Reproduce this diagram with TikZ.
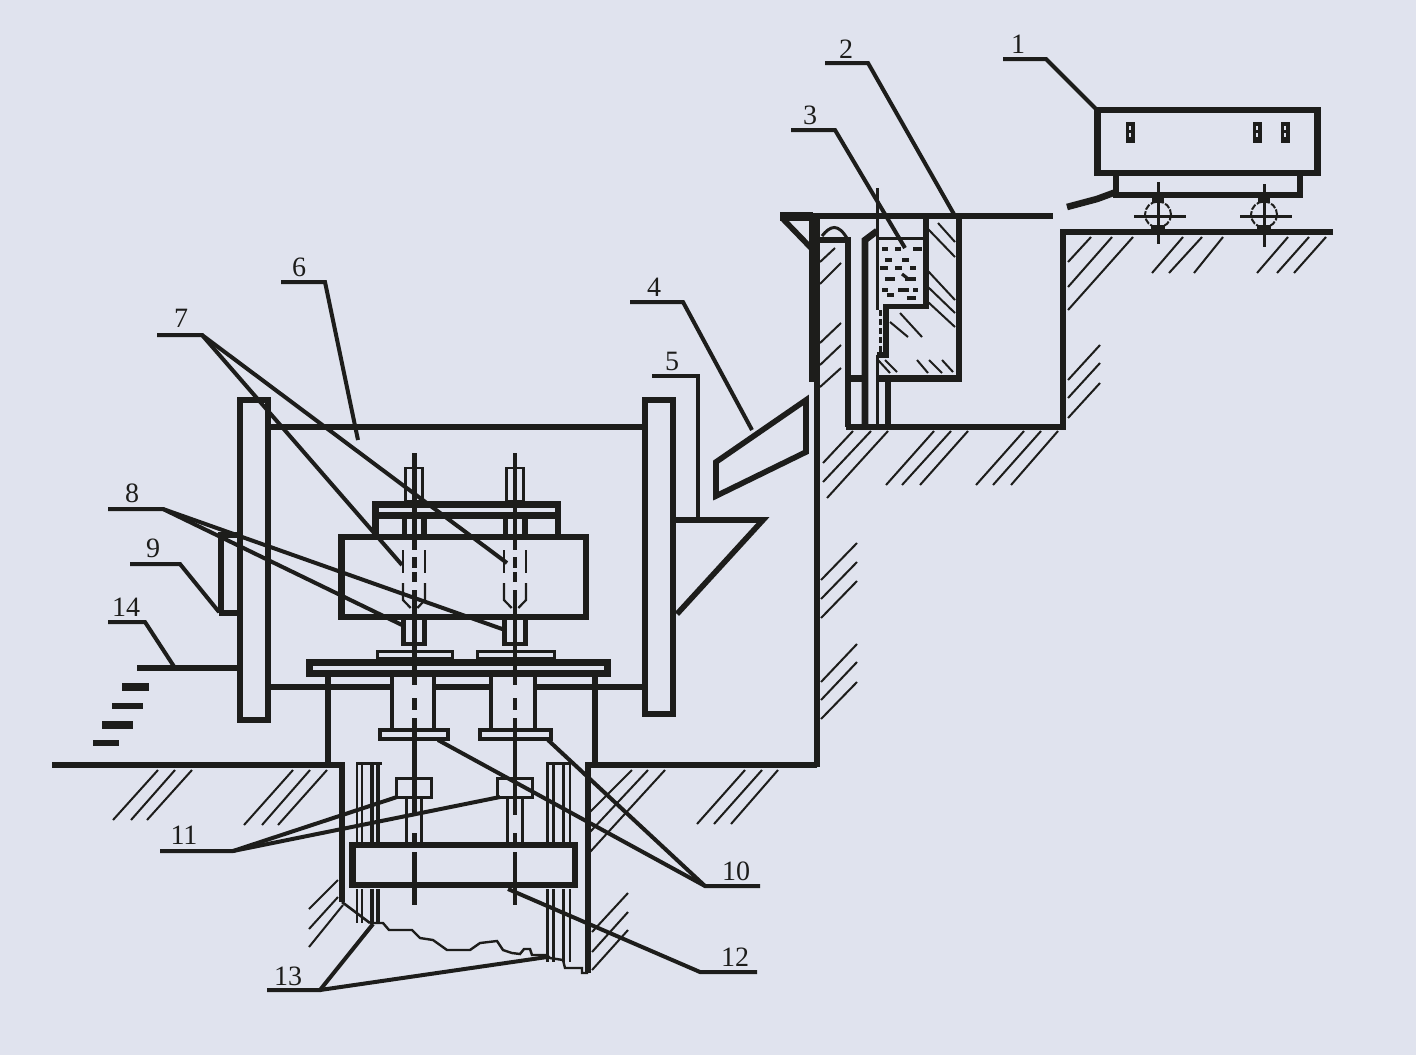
\documentclass[tikz,border=0pt]{standalone}
\usepackage{fontspec}
\setmainfont{Liberation Serif}
\usepackage{xcolor}
\definecolor{paper}{RGB}{224,227,238}
\definecolor{ink}{RGB}{29,29,27}
\tikzstyle{wall} = [draw=ink, line width=3.3pt]
\tikzstyle{frame} = [draw=ink, line width=2.8pt]
\tikzstyle{thinframe} = [draw=ink, line width=1.5pt]
\tikzstyle{fine} = [draw=ink, line width=1pt]
\tikzstyle{hatch} = [draw=ink, line width=1pt]
\tikzstyle{leader} = [draw=ink, line width=2pt]
\tikzstyle{number} = [inner sep=0pt, text=ink, font=\fontsize{14}{14}\selectfont]

\begin{document}
\begin{tikzpicture}[x=0.5pt, y=-0.5pt]
    \fill [paper] (0,0) rectangle (1416,1055);

    % Cart
    \draw [wall] (1097.5,110) rectangle (1317.5,173);
    \draw [frame] (1116,175) -- (1116,195) -- (1300,195) -- (1300,175);
    \draw [wall] (1067,207) -- (1097,199) -- (1116,192);
    \foreach \wx in {1130,1257,1285} {
        \fill [ink] (\wx-4.5,122) rectangle (\wx+4.5,143);
        \draw [paper, line width=0.6pt, dash pattern=on 2pt off 1.5pt] (\wx,126) -- (\wx,140);
    }
    \foreach \wx/\wa/\wb in {1158/182/244,1264/184/247} {
        \draw [fine, dash pattern=on 3pt off 0.8pt] (\wx,214.5) circle [radius=13];
        \draw [fine, line width=1.5pt] (\wx-24,216) -- (\wx+28,216);
        \draw [fine, line width=1.5pt] (\wx,\wa) -- (\wx,\wb);
        \fill [ink] (\wx-6,198) rectangle (\wx+6,203);
        \fill [ink] (\wx-7,225) rectangle (\wx+7,232);
    }

    % Ground, upper level
    \draw [frame] (1333,232) -- (1063,232) -- (1063,427) -- (846,427);
    \draw [wall] (780,216) -- (1053,216);
    \fill [ink] (780,212) rectangle (813,221);
    \draw [frame] (783,219) -- (812,249);

    % Tank walls
    \draw [wall] (812,216) -- (812,382);
    \draw [frame] (817,216) -- (817,767);
    \draw [frame] (820,240) -- (848,240) -- (848,427);
    \draw [thinframe] (822,236) .. controls (830,226) and (838,222) .. (848,240);
    \draw [wall] (865,427) -- (865,240) -- (877,231);
    \draw [thinframe] (877,188) -- (877,310);
    \draw [thinframe] (877,355) -- (877,427);
    \draw [thinframe] (877,238) -- (926,238);
    \draw [frame] (926,218) -- (926,306.5) -- (886,306.5) -- (886,355) -- (877,355);
    \draw [thinframe, dash pattern=on 3pt off 1.5pt] (880,310) -- (880,352);
    \draw [frame] (959,216) -- (959,379);
    \draw [wall] (846,378.5) -- (865,378.5);
    \draw [wall] (877,378.5) -- (962,378.5);
    \draw [frame] (888,378) -- (888,427);

    % Water in the tank
    \foreach \da/\db/\dy in {882/888/249,895/901/249,913/922/249,885/892/260,902/909/260,
        910/916/268,880/888/268,895/902/268,885/895/279,905/916/279,
        882/888/290,898/909/290,913/918/290,887/894/295,907/916/298} {
        \draw [fine, line width=1.6pt] (\da,\dy) -- (\db,\dy);
    }
    \draw [fine, line width=1.6pt] (902,274) -- (907,278);

    % Wall hatches
    \foreach \ax/\ay/\bx/\by in {928/229/955/257,938/223/955/242,928/271/955/300,928/287/955/313,
        928/302/955/327,890/322/908/337,900/313/922/337,917/360/928/373,929/360/942/373,
        942/360/953/372,878/360/890/373,885/360/897/372} {
        \draw [hatch] (\ax,\ay) -- (\bx,\by);
    }
    \foreach \ax/\ay/\bx/\by in {835/248/820/262,841/263/820/284,841/323/820/343,841/345/820/365,
        841/368/820/387,853/431/823/463,871/431/823/482,888/431/827/498,934/431/886/485,
        951/431/902/485,968/431/920/485,1024/431/976/485,1041/431/993/485,1058/431/1011/485,
        1091/237/1068/262,1112/237/1068/287,1133/237/1068/310,1100/345/1068/380,1100/363/1068/398,
        1100/383/1068/418,1183/237/1152/273,1202/237/1169/273,1223/237/1194/273,1288/237/1257/273,
        1309/237/1277/273,1326/237/1294/273,857/543/821/580,857/562/821/599,857/581/821/618,
        857/644/821/682,857/662/821/700,857/682/821/719,158/770/113/820,175/770/131/820,
        192/770/147/820,293/770/244/825,310/770/262/825,327/770/278/825,632/770/590/812,
        648/770/590/832,665/770/590/852,745/770/697/824,762/770/714/824,778/770/731/824,
        338/880/309/909,338/897/309/929,343/905/309/947,628/893/592/932,628/912/592/952,
        628/930/592/970} {
        \draw [hatch] (\ax,\ay) -- (\bx,\by);
    }

    % Chute and funnel
    \draw [frame] (716,462) -- (806,400) -- (806,452) -- (716,496) -- cycle;
    \draw [frame] (676,520) -- (763,520) -- (677,614);

    % Furnace posts and beams
    \draw [wall] (240,400) rectangle (268,720);
    \draw [wall] (645,400) rectangle (673,714);
    \draw [wall] (270,427) -- (643,427);
    \draw [wall] (270,687) -- (391,687);
    \draw [wall] (434,687) -- (491,687);
    \draw [wall] (535,687) -- (643,687);
    \draw [frame] (221,613) -- (221,535) -- (238,535);
    \draw [frame] (219,613) -- (238,613);
    \draw [frame] (137,668) -- (238,668);

    % Steps
    \fill [ink] (122,683) rectangle (149,691);
    \fill [ink] (112,703) rectangle (143,709);
    \fill [ink] (102,721) rectangle (133,729);
    \fill [ink] (93,740) rectangle (119,746);

    % Ingot mould and platform
    \draw [wall] (341.5,537) rectangle (586,617);
    \draw [wall, line width=3.5pt] (372,504.5) -- (561,504.5);
    \draw [wall, line width=3.5pt] (372,515.5) -- (561,515.5);
    \draw [wall] (375.5,501) -- (375.5,535);
    \draw [wall] (558,501) -- (558,535);
    \draw [wall, line width=3.5pt] (309,662) rectangle (607,673);
    \foreach \px/\qx in {377/452,477/554} {
        \draw [thinframe] (\px,651) rectangle (\qx,658);
    }
    \foreach \px/\qx in {380/448,480/551} {
        \draw [thinframe, line width=1.8pt] (\px,730) rectangle (\qx,739);
    }
    \foreach \px/\qx in {392/434,491/535} {
        \draw [frame, line width=2pt] (\px,677) -- (\px,730);
        \draw [frame, line width=2pt] (\qx,677) -- (\qx,730);
    }
    \draw [wall] (328,675) -- (328,765);
    \draw [wall] (595,675) -- (595,765);

    % Rods
    \foreach \sx/\sw in {414/2.5pt,515/1.6pt} {
        \draw [thinframe, line width=1.2pt] (\sx-8.5,468) rectangle (\sx+8.5,501);
        \draw [thinframe, line width=1.2pt] (\sx-8.5,519) -- (\sx-8.5,535);
        \draw [thinframe, line width=1.2pt] (\sx+8.5,519) -- (\sx+8.5,535);
        \draw [thinframe] (\sx-11,519) -- (\sx-11,535);
        \draw [thinframe] (\sx+11,519) -- (\sx+11,535);
        \foreach \sd in {-11,11} {
            \draw [ink, line width=1.1pt] (\sx+\sd,550) -- (\sx+\sd,573);
            \draw [ink, line width=1.1pt] (\sx+\sd,583) -- (\sx+\sd,600) -- (\sx+\sd*0.3,608);
        }
        \draw [frame, line width=2.2pt] (\sx-10.5,620) -- (\sx-10.5,644) -- (\sx+10.5,644) -- (\sx+10.5,620);
        \draw [thinframe] (\sx-17.5,778) rectangle (\sx+17.5,797);
        \draw [thinframe] (\sx-7.5,797) -- (\sx-7.5,842);
        \draw [thinframe] (\sx+7.5,797) -- (\sx+7.5,842);
        \foreach \ya/\yb in {453/550,557/568,572/582,590/685,698/710,718/815,833/847,852/905} {
            \draw [ink, line width=\sw] (\sx,\ya) -- (\sx,\yb);
        }
    }

    % Ground, lower level
    \draw [wall] (52,765) -- (342,765) -- (342,902);
    \draw [wall] (817,765) -- (588,765) -- (588,973);
    \draw [fine, line width=1.3pt] (342,902) -- (370,923);
    \draw [fine, line width=1.2pt] (370,923) -- (383,923) -- (389,930) -- (412,930) -- (420,938) -- (433,940)
        -- (447,950) -- (470,950) -- (480,943) -- (497,941) -- (503,950) -- (512,953) -- (520,954)
        -- (524,949) -- (530,949) -- (532,955) -- (547,955) -- (550,958) -- (563,960) -- (565,968)
        -- (582,968) -- (582,973) -- (588,973);

    % Guide columns
    \foreach \gx/\gw in {357/1.2pt,362/1.2pt,372/1.8pt,378/1.8pt} {
        \draw [ink, line width=\gw] (\gx,762) -- (\gx,842);
        \draw [ink, line width=\gw] (\gx,889) -- (\gx,923);
    }
    \foreach \gx/\gw in {547/1.5pt,553/1.5pt,563/1.5pt,570/1.2pt} {
        \draw [ink, line width=\gw] (\gx,762) -- (\gx,842);
        \draw [ink, line width=\gw] (\gx,889) -- (\gx,962);
    }
    \draw [fine, line width=1.5pt] (356,763) -- (382,763);
    \draw [fine, line width=1.5pt] (546,763) -- (571,763);
    \draw [ink, line width=3.4pt] (352.5,845) rectangle (575,885);

    % Numbers
    \node [number] (no1) at (1018,44) {1};
    \node [number] (no2) at (846,49) {2};
    \node [number] (no3) at (810,115) {3};
    \node [number] (no4) at (654,287) {4};
    \node [number] (no5) at (672,361) {5};
    \node [number] (no6) at (299,267) {6};
    \node [number] (no7) at (181,318) {7};
    \node [number] (no8) at (132,493) {8};
    \node [number] (no9) at (153,548) {9};
    \node [number] (no10) at (736,871) {10};
    \node [number] (no11) at (184,835) {11};
    \node [number] (no12) at (735,957) {12};
    \node [number] (no13) at (288,976) {13};
    \node [number] (no14) at (126,607) {14};

    % Leader lines
    \draw [leader] (1003,59) -- (1046,59) -- (1096,109);
    \draw [leader] (825,63) -- (868,63) -- (955,216);
    \draw [leader] (791,130) -- (835,130) -- (905,248);
    \draw [leader] (630,302) -- (683,302) -- (752,430);
    \draw [leader] (652,376) -- (698,376) -- (698,520);
    \draw [leader] (281,282) -- (325,282) -- (358,440);
    \draw [leader] (157,335) -- (202,335) -- (402,565);
    \draw [leader] (202,335) -- (507,563);
    \draw [leader] (108,509) -- (163,509) -- (402,625);
    \draw [leader] (163,509) -- (505,630);
    \draw [leader] (130,564) -- (180,564) -- (219,612);
    \draw [leader] (108,622) -- (145,622) -- (175,668);
    \draw [leader] (760,886) -- (705,886) -- (438,740);
    \draw [leader] (705,886) -- (548,740);
    \draw [leader] (160,851) -- (233,851) -- (397,797);
    \draw [leader] (233,851) -- (500,797);
    \draw [leader] (757,972) -- (700,972) -- (508,889);
    \draw [leader] (267,990) -- (320,990) -- (373,924);
    \draw [leader] (320,990) -- (547,957);
\end{tikzpicture}
\end{document}
